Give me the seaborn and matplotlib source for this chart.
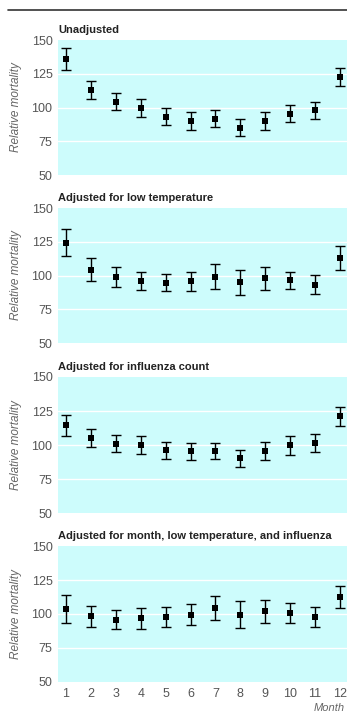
import numpy as np
import pandas as pd
import seaborn as sns
import matplotlib.pyplot as plt

months = list(range(1, 13))
titles = ["Unadjusted",
          "Adjusted for low temperature",
          "Adjusted for influenza count",
          "Adjusted for month, low temperature, and influenza"]

unadj_est = [135.9, 113.0, 104.3, 99.6, 93.2, 90.0, 91.7, 84.8, 90.0, 95.4, 97.9, 122.8]
unadj_hi = [144.3, 119.6, 110.5, 106.5, 99.6, 96.4, 98.1, 91.5, 96.4, 101.9, 104.3, 129.5]
unadj_lo = [127.8, 106.5, 98.1, 93.0, 86.8, 83.6, 85.6, 78.6, 83.6, 89.0, 91.5, 115.9]

temp_est = [124.1, 104.3, 98.6, 95.7, 94.4, 95.7, 98.9, 95.1, 97.8, 96.3, 93.3, 113.0]
temp_hi = [134.7, 113.0, 106.3, 102.3, 101.1, 102.6, 108.3, 104.4, 106.3, 102.8, 100.5, 122.1]
temp_lo = [114.2, 95.7, 91.2, 89.0, 88.3, 88.3, 90.0, 85.3, 89.6, 90.2, 86.5, 103.8]

flu_est = [114.5, 105.1, 101.0, 100.0, 96.1, 95.3, 95.8, 90.2, 95.6, 99.8, 101.2, 121.1]
flu_hi = [121.8, 111.8, 107.1, 106.6, 102.2, 101.5, 101.7, 96.3, 102.0, 106.6, 108.1, 128.2]
flu_lo = [106.9, 98.5, 94.9, 93.4, 89.5, 89.0, 89.5, 83.8, 89.2, 92.9, 94.6, 114.0]

all_est = [103.4, 98.3, 95.8, 96.8, 97.8, 99.5, 104.7, 99.3, 102.0, 100.5, 97.8, 112.7]
all_hi = [114.2, 106.1, 102.7, 104.7, 105.1, 107.1, 113.2, 109.3, 110.3, 107.8, 105.4, 120.8]
all_lo = [93.1, 90.2, 89.0, 89.2, 90.4, 91.9, 95.6, 89.5, 93.6, 93.4, 90.4, 104.4]

series = [(unadj_est, unadj_lo, unadj_hi),
          (temp_est, temp_lo, temp_hi),
          (flu_est, flu_lo, flu_hi),
          (all_est, all_lo, all_hi)]

sns.set_theme(style="white", rc={"axes.facecolor": "#cdfcfc"})
plt.rcParams["font.family"] = ["Liberation Sans", "DejaVu Sans"]

W, H = 347, 715
fig = plt.figure(figsize=(W / 100, H / 100), dpi=100)

# axes boxes in pixels: (top, bottom)
boxes = [(40, 175), (208, 343), (377, 513), (546, 682)]
left, right = 58, 347

fig.add_artist(plt.Line2D([8 / W, 1], [1 - 10 / H, 1 - 10 / H], color="#333333", lw=1.2))

for i, ((top, bot), title, (est, lo, hi)) in enumerate(zip(boxes, titles, series)):
    ax = fig.add_axes([left / W, 1 - bot / H, (right - left) / W, (bot - top) / H])
    df = pd.DataFrame({"month": months, "est": est, "lo": lo, "hi": hi})
    ax.errorbar(df["month"], df["est"],
                yerr=[df["est"] - df["lo"], df["hi"] - df["est"]],
                fmt="none", ecolor="black", elinewidth=1.0, capsize=3.3, capthick=1.0, zorder=3)
    sns.scatterplot(data=df, x="month", y="est", marker="s", color="black",
                    s=18, linewidth=0, ax=ax, zorder=4)
    ax.set_xlim(0.68, 12.28)
    ax.set_ylim(50, 150)
    ax.set_yticks([50, 75, 100, 125, 150])
    for y in [75, 100, 125]:
        ax.axhline(y, color="white", lw=1.0, zorder=1)
    sns.despine(ax=ax, left=True, bottom=True, right=True, top=True)
    ax.tick_params(axis="y", length=0, labelsize=9, labelcolor="#555555", pad=4)
    ax.set_xlabel("")
    ax.set_ylabel("Relative mortality", fontsize=8.5, color="#666666", style="italic", labelpad=7)
    ax.text(0.0, 1.04, title, transform=ax.transAxes, fontsize=8, fontweight="bold",
            color="#222222", ha="left", va="bottom")
    if i < 3:
        ax.set_xticks([])
    else:
        ax.set_xticks(months)
        ax.tick_params(axis="x", length=0, labelsize=9, labelcolor="#555555", pad=4)

fig.text(345 / W, 1 - 708 / H, "Month", fontsize=8, style="italic", color="#666666",
         ha="right", va="center")

fig.savefig("out.png", dpi=100)
